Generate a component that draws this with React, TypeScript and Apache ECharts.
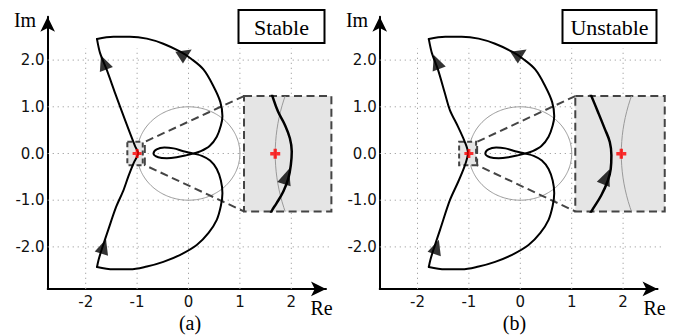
import React, { useEffect, useRef } from "react";
import * as echarts from "echarts";

// Tick positions shared by both panels (Re and Im)
const tickValues = [-2, -1, 0, 1, 2];

// Extent of the dotted reference grid
const gridLineTop = 2.25;
const gridLineRight = 2.8;

// Axis ranges of the two Nyquist panels
const reRangeA = [-2.74, 2.675];
const reRangeB = [-2.735, 2.67];
const imRange = [-2.9, 2.93];

// Outer part of the contour: top-left corner, upper lobe, inner loop, lower lobe, bottom-left corner
const outerPath: number[][] = [
  [-1.78, 2.45],
  [-1.46, 2.5],
  [-1.14, 2.5],
  [-0.81, 2.46],
  [-0.49, 2.35],
  [-0.16, 2.18],
  [0.05, 2.03],
  [0.29, 1.8],
  [0.49, 1.43],
  [0.62, 1.1],
  [0.66, 0.8],
  [0.63, 0.6],
  [0.55, 0.36],
  [0.41, 0.16],
  [0.24, 0.05],
  [0.09, 0.0],
  [-0.05, -0.04],
  [-0.23, -0.08],
  [-0.42, -0.1],
  [-0.59, -0.08],
  [-0.68, 0.0],
  [-0.62, 0.09],
  [-0.47, 0.13],
  [-0.29, 0.11],
  [-0.1, 0.05],
  [0.09, 0.0],
  [0.26, -0.05],
  [0.42, -0.15],
  [0.55, -0.33],
  [0.63, -0.58],
  [0.66, -0.85],
  [0.63, -1.12],
  [0.55, -1.42],
  [0.39, -1.7],
  [0.16, -1.96],
  [-0.16, -2.17],
  [-0.49, -2.32],
  [-0.81, -2.42],
  [-1.14, -2.48],
  [-1.46, -2.48],
  [-1.78, -2.43],
];

// Left branch passing close to -1 (stable: right of the critical point)
const leftPathA: number[][] = [
  [-1.78, -2.43],
  [-1.75, -2.28],
  [-1.69, -2.06],
  [-1.56, -1.63],
  [-1.41, -1.15],
  [-1.27, -0.8],
  [-1.17, -0.49],
  [-1.07, -0.21],
  [-0.98, 0.01],
  [-1.04, 0.16],
  [-1.14, 0.44],
  [-1.29, 0.88],
  [-1.43, 1.3],
  [-1.59, 1.79],
  [-1.72, 2.15],
  [-1.78, 2.45],
];

// Left branch (unstable: left of the critical point)
const leftPathB: number[][] = [
  [-1.78, -2.43],
  [-1.75, -2.28],
  [-1.69, -2.06],
  [-1.56, -1.63],
  [-1.37, -1.0],
  [-1.21, -0.61],
  [-1.09, -0.29],
  [-1.03, -0.08],
  [-1.02, 0.03],
  [-1.08, 0.25],
  [-1.21, 0.57],
  [-1.37, 0.93],
  [-1.47, 1.3],
  [-1.6, 1.79],
  [-1.72, 2.15],
  [-1.78, 2.45],
];

// Direction arrows on the contour: [Re, Im, rotation in degrees]
const arrowsA: number[][] = [
  [-1.65, 1.95, 21],
  [-1.65, -1.99, -18],
  [-0.06, 2.14, -57],
];
const arrowsB: number[][] = [
  [-1.63, 1.96, 21],
  [-1.63, -2.0, -18],
  [0.0, 2.14, -57],
];

// Zoom windows: [ReMin, ReMax, ImMin, ImMax]
const smallBoxA = [-1.19, -0.89, -0.25, 0.25];
const smallBoxB = [-1.19, -0.86, -0.25, 0.25];
const insetBoxA = [1.08, 2.78, -1.24, 1.23];
const insetBoxB = [1.07, 2.81, -1.24, 1.23];
const throatReA = -0.85;
const throatReB = -0.84;

// Magnified views around -1
const insetReA = [-1.1, -0.82];
const insetReB = [-1.144, -0.864];
const insetIm = [-0.25, 0.25];

const insetPathA: number[][] = [
  [-1.015, -0.27],
  [-1.012, -0.25],
  [-0.996, -0.215],
  [-0.974, -0.164],
  [-0.958, -0.107],
  [-0.95, -0.049],
  [-0.947, 0.01],
  [-0.953, 0.067],
  [-0.969, 0.125],
  [-0.991, 0.183],
  [-1.009, 0.25],
  [-1.013, 0.27],
];
const insetPathB: number[][] = [
  [-1.1, -0.27],
  [-1.094, -0.251],
  [-1.063, -0.181],
  [-1.042, -0.116],
  [-1.033, -0.065],
  [-1.031, -0.007],
  [-1.036, 0.051],
  [-1.052, 0.109],
  [-1.073, 0.181],
  [-1.094, 0.251],
  [-1.1, 0.27],
];
const insetArrowA: number[][] = [[-0.964, -0.099, -18]];
const insetArrowB: number[][] = [[-1.047, -0.101, -22]];

const criticalPoint = [-1, 0];

// Layout: pixels per unit and origin of each panel
const PX = 51.4;
const PY = 46.7;
const Y0 = 153.5;
const X0A = 188.5;
const X0B = 520.3;

const gridRect = (x0: number, xr: number[], yr: number[]) => ({
  left: x0 + xr[0] * PX,
  top: Y0 - yr[1] * PY,
  width: (xr[1] - xr[0]) * PX,
  height: (yr[1] - yr[0]) * PY,
  containLabel: false,
  outerBoundsMode: "none",
});

const tickFont = { fontFamily: "DejaVu Sans", fontSize: 15, color: "#111" };
const axisLineStyle = {
  show: true,
  onZero: false,
  symbol: ["none", "arrow"],
  symbolSize: [11, 15],
  lineStyle: { color: "#000", width: 2 },
};

const mainX = (gi: number, range: number[]) => ({
  type: "value",
  gridIndex: gi,
  min: range[0],
  max: range[1],
  axisLine: axisLineStyle,
  axisTick: { show: false },
  splitLine: { show: false },
  axisLabel: {
    ...tickFont,
    margin: 6,
    customValues: tickValues,
    formatter: (v: number) => String(v),
  },
});
const mainY = (gi: number) => ({
  type: "value",
  gridIndex: gi,
  min: imRange[0],
  max: imRange[1],
  axisLine: axisLineStyle,
  axisTick: { show: false },
  splitLine: { show: false },
  axisLabel: {
    ...tickFont,
    margin: 3,
    customValues: tickValues,
    formatter: (v: number) => v.toFixed(1),
  },
});
const hiddenAxis = (gi: number, range: number[]) => ({
  type: "value",
  gridIndex: gi,
  min: range[0],
  max: range[1],
  show: false,
});

const dotted = { stroke: "#a0a0a0", lineWidth: 1, lineDash: [1.2, 3.8] };
const dashed = { stroke: "#444", lineWidth: 2, lineDash: [8, 4.5] };

function unitCircle(api: any, style: any) {
  const pts: number[][] = [];
  for (let k = 0; k <= 240; k++) {
    const t = (k / 240) * 2 * Math.PI;
    pts.push(api.coord([Math.cos(t), Math.sin(t)]));
  }
  return { type: "polyline", shape: { points: pts }, style };
}

function panelSeries(
  gi: number,
  ii: number,
  reRange: number[],
  leftPath: number[][],
  arrows: number[][],
  smallBox: number[],
  insetBox: number[],
  throatRe: number,
  insetPath: number[][],
  insetArrow: number[][]
) {
  const common = { silent: true, emphasis: { disabled: true } };
  return [
    {
      // dotted reference grid
      type: "custom",
      ...common,
      xAxisIndex: gi,
      yAxisIndex: gi,
      z: 1,
      data: tickValues.map((v) => [v, v]),
      renderItem: (_p: any, api: any) => {
        const v = api.value(0);
        const p1 = api.coord([v, imRange[0]]);
        const p2 = api.coord([v, gridLineTop]);
        const q1 = api.coord([reRange[0], v]);
        const q2 = api.coord([gridLineRight, v]);
        return {
          type: "group",
          children: [
            { type: "line", shape: { x1: p1[0], y1: p1[1], x2: p2[0], y2: p2[1] }, style: dotted },
            { type: "line", shape: { x1: q1[0], y1: q1[1], x2: q2[0], y2: q2[1] }, style: dotted },
          ],
        };
      },
    },
    {
      // unit circle
      type: "custom",
      ...common,
      xAxisIndex: gi,
      yAxisIndex: gi,
      z: 2,
      data: [[0, 0]],
      renderItem: (_p: any, api: any) =>
        unitCircle(api, { stroke: "#999", lineWidth: 1, fill: null }),
    },
    {
      // zoom window, connector and magnified frame
      type: "custom",
      ...common,
      xAxisIndex: gi,
      yAxisIndex: gi,
      z: 3,
      data: [[0, 0]],
      renderItem: (_p: any, api: any) => {
        const s0 = api.coord([smallBox[0], smallBox[3]]);
        const s1 = api.coord([smallBox[1], smallBox[2]]);
        const b0 = api.coord([insetBox[0], insetBox[3]]);
        const b1 = api.coord([insetBox[1], insetBox[2]]);
        const t0 = api.coord([throatRe, smallBox[3]]);
        const t1 = api.coord([throatRe, smallBox[2]]);
        return {
          type: "group",
          children: [
            {
              type: "rect",
              shape: { x: s0[0], y: s0[1], width: s1[0] - s0[0], height: s1[1] - s0[1] },
              style: { ...dashed, lineDash: [5, 3], fill: "#e5e5e5" },
            },
            {
              type: "polyline",
              shape: { points: [[b0[0], b0[1]], t0, t1, [b0[0], b1[1]]] },
              style: { ...dashed, fill: null },
            },
            {
              type: "rect",
              shape: { x: b0[0], y: b0[1], width: b1[0] - b0[0], height: b1[1] - b0[1] },
              style: { ...dashed, fill: "#e5e5e5" },
            },
          ],
        };
      },
    },
    {
      type: "line",
      ...common,
      xAxisIndex: gi,
      yAxisIndex: gi,
      z: 5,
      data: leftPath,
      symbol: "none",
      smooth: 0.3,
      lineStyle: { color: "#000", width: 2, cap: "round", join: "round" },
    },
    {
      type: "line",
      ...common,
      xAxisIndex: gi,
      yAxisIndex: gi,
      z: 5,
      data: outerPath,
      symbol: "none",
      smooth: 0.35,
      lineStyle: { color: "#000", width: 2, cap: "round", join: "round" },
    },
    {
      type: "scatter",
      ...common,
      xAxisIndex: gi,
      yAxisIndex: gi,
      z: 6,
      symbol: "triangle",
      symbolSize: [14, 15],
      itemStyle: { color: "#000" },
      data: arrows.map((a) => ({ value: [a[0], a[1]], symbolRotate: a[2] })),
    },
    {
      type: "scatter",
      ...common,
      xAxisIndex: gi,
      yAxisIndex: gi,
      z: 7,
      symbol: "path://M3,0H6V3H9V6H6V9H3V6H0V3H3Z",
      symbolSize: 9,
      itemStyle: { color: "#ff0000" },
      data: [criticalPoint],
    },
    // magnified view
    {
      type: "custom",
      ...common,
      xAxisIndex: ii,
      yAxisIndex: ii,
      z: 4,
      clip: true,
      data: [[-1, 0]],
      renderItem: (_p: any, api: any) =>
        unitCircle(api, { stroke: "#999", lineWidth: 1, fill: null }),
    },
    {
      type: "line",
      ...common,
      xAxisIndex: ii,
      yAxisIndex: ii,
      z: 5,
      data: insetPath,
      symbol: "none",
      smooth: 0.4,
      clip: true,
      lineStyle: { color: "#000", width: 2.5, cap: "butt" },
    },
    {
      type: "scatter",
      ...common,
      xAxisIndex: ii,
      yAxisIndex: ii,
      z: 6,
      symbol: "triangle",
      symbolSize: [14, 16],
      itemStyle: { color: "#000" },
      data: insetArrow.map((a) => ({ value: [a[0], a[1]], symbolRotate: a[2] })),
    },
    {
      type: "scatter",
      ...common,
      xAxisIndex: ii,
      yAxisIndex: ii,
      z: 7,
      symbol: "path://M3,0H6V3H9V6H6V9H3V6H0V3H3Z",
      symbolSize: 10,
      itemStyle: { color: "#ff0000" },
      data: [criticalPoint],
    },
  ];
}

const serif = '"Liberation Serif", "Times New Roman", serif';

const labelText = (x: number, y: number, text: string, size: number) => ({
  type: "text",
  x,
  y,
  z: 10,
  style: {
    text,
    fontFamily: serif,
    fontSize: size,
    fill: "#000",
    align: "center",
    verticalAlign: "middle",
  },
});

const labelBox = (x: number, w: number, text: string) => ({
  type: "group",
  z: 10,
  children: [
    {
      type: "rect",
      shape: { x, y: 10, width: w, height: 33 },
      style: { fill: "#fff", stroke: "#000", lineWidth: 2 },
    },
    {
      type: "text",
      x: x + w / 2,
      y: 27,
      style: {
        text,
        fontFamily: serif,
        fontSize: 22,
        fill: "#000",
        align: "center",
        verticalAlign: "middle",
      },
    },
  ],
});

export default function App() {
  const ref = useRef<HTMLDivElement>(null);

  useEffect(() => {
    document.body.style.margin = "0";
    if (!ref.current) return;
    const chart = echarts.init(ref.current, undefined, { renderer: "svg" });
    chart.setOption({
      animation: false,
      backgroundColor: "#fff",
      textStyle: { fontFamily: "DejaVu Sans" },
      grid: [
        gridRect(X0A, reRangeA, imRange),
        gridRect(X0B, reRangeB, imRange),
        gridRect(X0A, [insetBoxA[0], insetBoxA[1]], [insetBoxA[2], insetBoxA[3]]),
        gridRect(X0B, [insetBoxB[0], insetBoxB[1]], [insetBoxB[2], insetBoxB[3]]),
      ],
      xAxis: [
        mainX(0, reRangeA),
        mainX(1, reRangeB),
        hiddenAxis(2, insetReA),
        hiddenAxis(3, insetReB),
      ],
      yAxis: [mainY(0), mainY(1), hiddenAxis(2, insetIm), hiddenAxis(3, insetIm)],
      series: [
        ...panelSeries(0, 2, reRangeA, leftPathA, arrowsA, smallBoxA, insetBoxA, throatReA, insetPathA, insetArrowA),
        ...panelSeries(1, 3, reRangeB, leftPathB, arrowsB, smallBoxB, insetBoxB, throatReB, insetPathB, insetArrowB),
      ],
      graphic: [
        labelText(25, 20, "Im", 20),
        labelText(357, 20, "Im", 20),
        labelText(321.5, 308, "Re", 20),
        labelText(654.5, 308, "Re", 20),
        labelText(190, 323, "(a)", 20),
        labelText(514.5, 323, "(b)", 20),
        labelBox(238.5, 86, "Stable"),
        labelBox(562.5, 94, "Unstable"),
      ],
    });
    return () => chart.dispose();
  }, []);

  return <div ref={ref} style={{ width: 679, height: 335 }} />;
}
